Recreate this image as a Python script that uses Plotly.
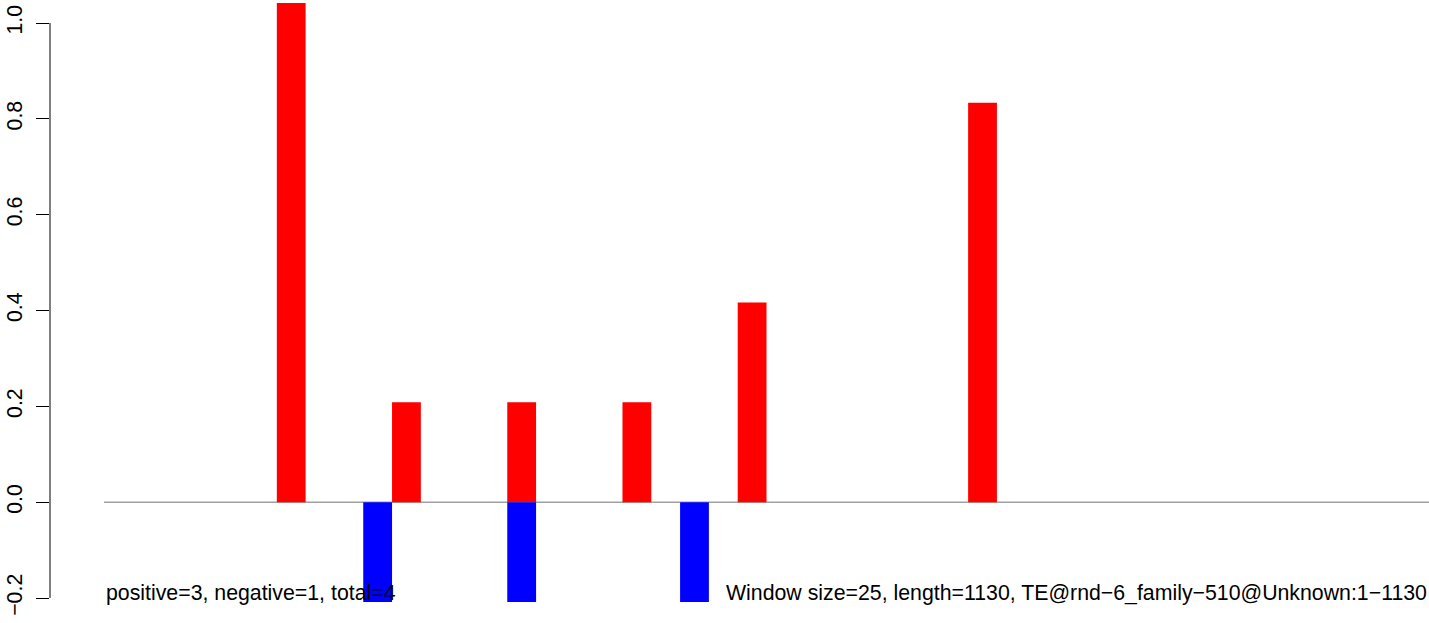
import plotly.graph_objects as go

# ---- data ----
n_windows = 46
pos_windows = [6, 10, 14, 18, 22, 30]
pos_values = [25/24, 5/24, 5/24, 5/24, 10/24, 20/24]
neg_windows = [9, 14, 20]
neg_values = [-5/24, -5/24, -5/24]
y_ticks = [-0.2, 0.0, 0.2, 0.4, 0.6, 0.8, 1.0]
y_tick_labels = ["\u22120.2", "0.0", "0.2", "0.4", "0.6", "0.8", "1.0"]
left_text = "positive=3, negative=1, total=4"
right_text = "Window size=25, length=1130, TE@rnd\u22126_family\u2212510@Unknown:1\u22121130"

FONT = "Liberation Sans, Arial, Helvetica, sans-serif"
FS = 21.3

fig = go.Figure()
fig.add_trace(go.Bar(x=[w + 0.5 for w in pos_windows], y=pos_values, width=1,
                     marker=dict(color="#FF0000", line=dict(width=0)), showlegend=False))
fig.add_trace(go.Bar(x=[w + 0.5 for w in neg_windows], y=neg_values, width=1,
                     marker=dict(color="#0000FF", line=dict(width=0)), showlegend=False))

# zero reference line across all windows
fig.add_shape(type="line", xref="x", yref="y", x0=0, x1=n_windows, y0=0, y1=0,
              line=dict(color="#A0A0A0", width=1.5), layer="below")
# R-style y axis line spanning ticks only
fig.add_shape(type="line", xref="paper", yref="y", x0=0, x1=0, y0=y_ticks[0], y1=y_ticks[-1],
              line=dict(color="black", width=1))

fig.add_annotation(x=0, y=-0.19, xref="x", yref="y", text=left_text, showarrow=False,
                   xanchor="left", yanchor="middle", font=dict(family=FONT, size=FS, color="black"))
fig.add_annotation(x=n_windows, y=-0.19, xref="x", yref="y", text=right_text, showarrow=False,
                   xanchor="right", yanchor="middle", font=dict(family=FONT, size=FS, color="black"))

unit = (1429 - 104) / n_windows
left_ext = (104 - 50) / unit

fig.update_layout(
    width=1429, height=623,
    margin=dict(l=50, r=0, t=0, b=2),
    plot_bgcolor="white", paper_bgcolor="white",
    barmode="overlay",
    xaxis=dict(range=[-left_ext, n_windows], visible=False, showgrid=False, zeroline=False),
    yaxis=dict(range=[-0.248, 1.048], tickvals=y_ticks, ticktext=y_tick_labels,
               tickangle=-90, ticks="outside", ticklen=13, tickwidth=1, tickcolor="black",
               ticklabelstandoff=5,
               showgrid=False, zeroline=False, showline=False,
               tickfont=dict(family=FONT, size=FS, color="black")),
)

fig.write_html("out.html", config={"displayModeBar": False},
               post_script="document.body.style.margin='0';document.body.style.overflow='hidden';")
